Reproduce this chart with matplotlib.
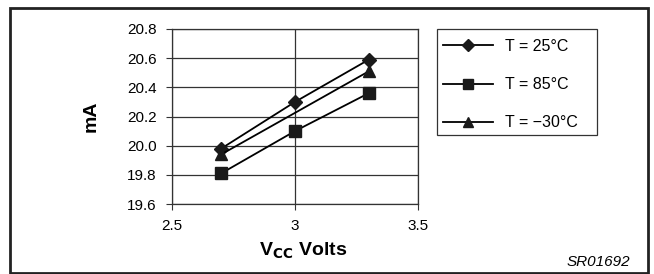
import matplotlib
matplotlib.use('Agg')
import matplotlib.pyplot as plt
from matplotlib.patches import Rectangle

plt.rcParams['font.family'] = ['Liberation Sans', 'DejaVu Sans']

# supply current vs VCC at three temperatures
vcc = [2.7, 3.0, 3.3]
i_25 = [19.98, 20.30, 20.59]
i_85 = [19.81, 20.10, 20.36]
vcc_m30 = [2.7, 3.3]          # no marker drawn at 3.0 V in the original
i_m30 = [19.94, 20.51]

series = [
    (vcc, i_25, 'D', 7, 'T = 25\u00b0C'),
    (vcc, i_85, 's', 8, 'T = 85\u00b0C'),
    (vcc_m30, i_m30, '^', 8, 'T = \u221230\u00b0C'),
]

x_ticks = [2.5, 3, 3.5]
x_ticklabels = ['2.5', '3', '3.5']
y_ticks = [19.6, 19.8, 20.0, 20.2, 20.4, 20.6, 20.8]

fig = plt.figure(figsize=(6.54, 2.74), dpi=100)

# outer frame of the figure
fig.patches.append(Rectangle((10 / 654, 1 / 274), 638 / 654, 265 / 274,
                             transform=fig.transFigure, fill=False,
                             edgecolor='#222222', lw=2))
# legend box (drawn by hand, it is larger than the entries need)
fig.patches.append(Rectangle((437 / 654, 1 - 135 / 274), 160 / 654, 106 / 274,
                             transform=fig.transFigure, fill=False,
                             edgecolor='#333333', lw=0.9))

ax = fig.add_axes([172 / 654, 1 - 204 / 274, 246 / 654, 175 / 274])

handles = []
for x, y, mk, ms, lab in series:
    h, = ax.plot(x, y, '-', color='black', lw=1.3, marker=mk, ms=ms,
                 markerfacecolor='#1a1a1a', markeredgecolor='#1a1a1a',
                 label=lab, zorder=3)
    handles.append(h)

ax.set_xlim(2.5, 3.5)
ax.set_ylim(19.6, 20.8)
ax.set_xticks(x_ticks)
ax.set_xticklabels(x_ticklabels)
ax.set_yticks(y_ticks)
ax.set_yticklabels([f'{v:.1f}' for v in y_ticks])
ax.tick_params(labelsize=11, length=4, width=0.8, pad=7, color='#333333')
ax.grid(True, color='#333333', lw=0.9)
for s in ax.spines.values():
    s.set_color('#333333')
    s.set_linewidth(0.9)

ax.set_ylabel('mA', fontsize=14, fontweight='bold', labelpad=20)
fig.text(303 / 654, 1 - 251 / 274, r'V$_{\mathbf{CC}}$ Volts', fontsize=14,
         fontweight='bold', ha='center', va='center')
fig.text(630 / 654, 1 - 262 / 274, 'SR01692', fontsize=11, style='italic',
         ha='right', va='center')

fig.legend(handles=handles, loc='upper left',
           bbox_to_anchor=(443 / 654, 1 - 39 / 274), fontsize=11.5,
           frameon=False, handlelength=3.1, handletextpad=0.8,
           labelspacing=1.45, borderpad=0, borderaxespad=0,
           markerscale=0.9)

fig.savefig('out.png', dpi=100)
